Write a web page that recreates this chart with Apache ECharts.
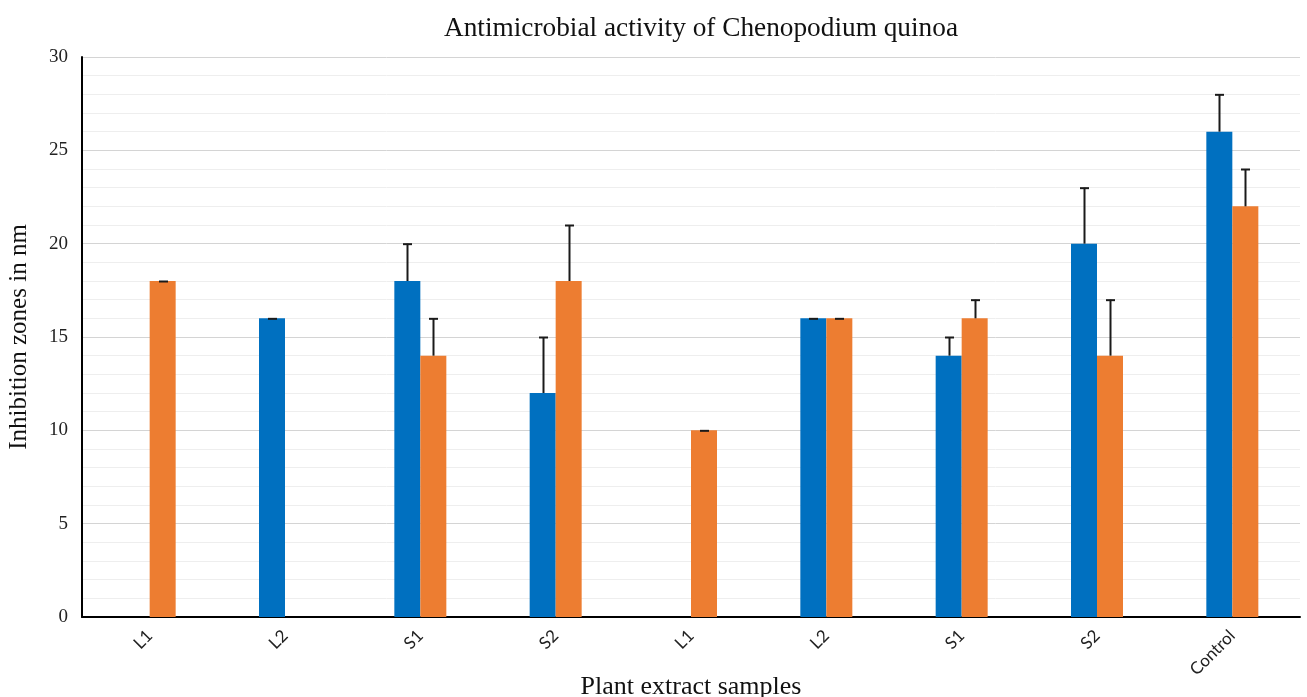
<!DOCTYPE html>
<html>
<head>
<meta charset="utf-8">
<script src="https://cdn.jsdelivr.net/npm/echarts@6/dist/echarts.min.js"></script>
<style>html,body{margin:0;padding:0;background:#fff;}#c{width:1307px;height:697px;}</style>
</head>
<body>
<div id="c"></div>
<script>
const categories = ['L1','L2','S1','S2','L1','L2','S1','S2','Control'];
const blueValues = [0,16,18,12,0,16,14,20,26];
const orangeValues = [18,0,14,18,10,16,16,14,22];
const blueErr = [0,0,2,3,0,0,1,3,2];
const orangeErr = [0,0,2,3,0,0,1,3,2];
const yTicks = [0,5,10,15,20,25,30];

const BW = 26;
function errData(vals, errs){
  return vals.map((v,i)=>[i, v, v + errs[i]]);
}
function errRender(offset){
  return function(params, api){
    const v = api.value(1);
    if (!v) return null;
    const lo = api.coord([api.value(0), v]);
    const hi = api.coord([api.value(0), api.value(2)]);
    const x = Math.round(lo[0] + offset) + 0.5;
    const style = {stroke:'#1a1a1a', lineWidth:2};
    return {type:'group', children:[
      {type:'line', shape:{x1:x,y1:lo[1],x2:x,y2:hi[1]}, style:style},
      {type:'line', shape:{x1:x-4.5,y1:hi[1]+0.5,x2:x+4.5,y2:hi[1]+0.5}, style:style}
    ]};
  };
}
const chart = echarts.init(document.getElementById('c'));
chart.setOption({
  animation:false,
  backgroundColor:'#fff',
  title:{text:'Antimicrobial activity of Chenopodium quinoa', left:439, top:10,
    textStyle:{fontFamily:'Liberation Serif', fontSize:27.3, fontWeight:'normal', color:'#111'}},
  grid:{left:82, right:7, top:57, bottom:80, containLabel:false, outerBoundsMode:'none'},
  xAxis:{type:'category', data:categories,
    name:'Plant extract samples', nameLocation:'middle', nameGap:57, nameMoveOverlap:false,
    nameTextStyle:{fontFamily:'Liberation Serif', fontSize:26, color:'#111'},
    axisLine:{lineStyle:{color:'#000', width:2}},
    axisTick:{show:false},
    axisLabel:{rotate:45, margin:16, fontFamily:'Lato', fontSize:17, color:'#222', interval:0}},
  yAxis:{type:'value', min:yTicks[0], max:yTicks[yTicks.length-1], interval:5,
    name:'Inhibition zones in nm', nameLocation:'middle', nameGap:50, nameRotate:90, nameMoveOverlap:false,
    nameTextStyle:{fontFamily:'Liberation Serif', fontSize:25, color:'#111'},
    axisLine:{show:true, lineStyle:{color:'#000', width:2}},
    axisTick:{show:false},
    axisLabel:{fontFamily:'Liberation Serif', fontSize:19, color:'#222', margin:14},
    splitLine:{lineStyle:{color:'#d4d4d4', width:1}},
    minorTick:{show:false, splitNumber:5},
    minorSplitLine:{show:true, lineStyle:{color:'#eeeeee', width:1}}},
  series:[
    {type:'bar', data:blueValues, barWidth:BW, barGap:'0%', itemStyle:{color:'#0070C0'}},
    {type:'bar', data:orangeValues, barWidth:BW, barGap:'0%', itemStyle:{color:'#ED7D31'}},
    {type:'custom', data:errData(blueValues, blueErr), renderItem:errRender(-BW/2), z:5},
    {type:'custom', data:errData(orangeValues, orangeErr), renderItem:errRender(BW/2), z:5}
  ]
});
</script>
</body>
</html>
